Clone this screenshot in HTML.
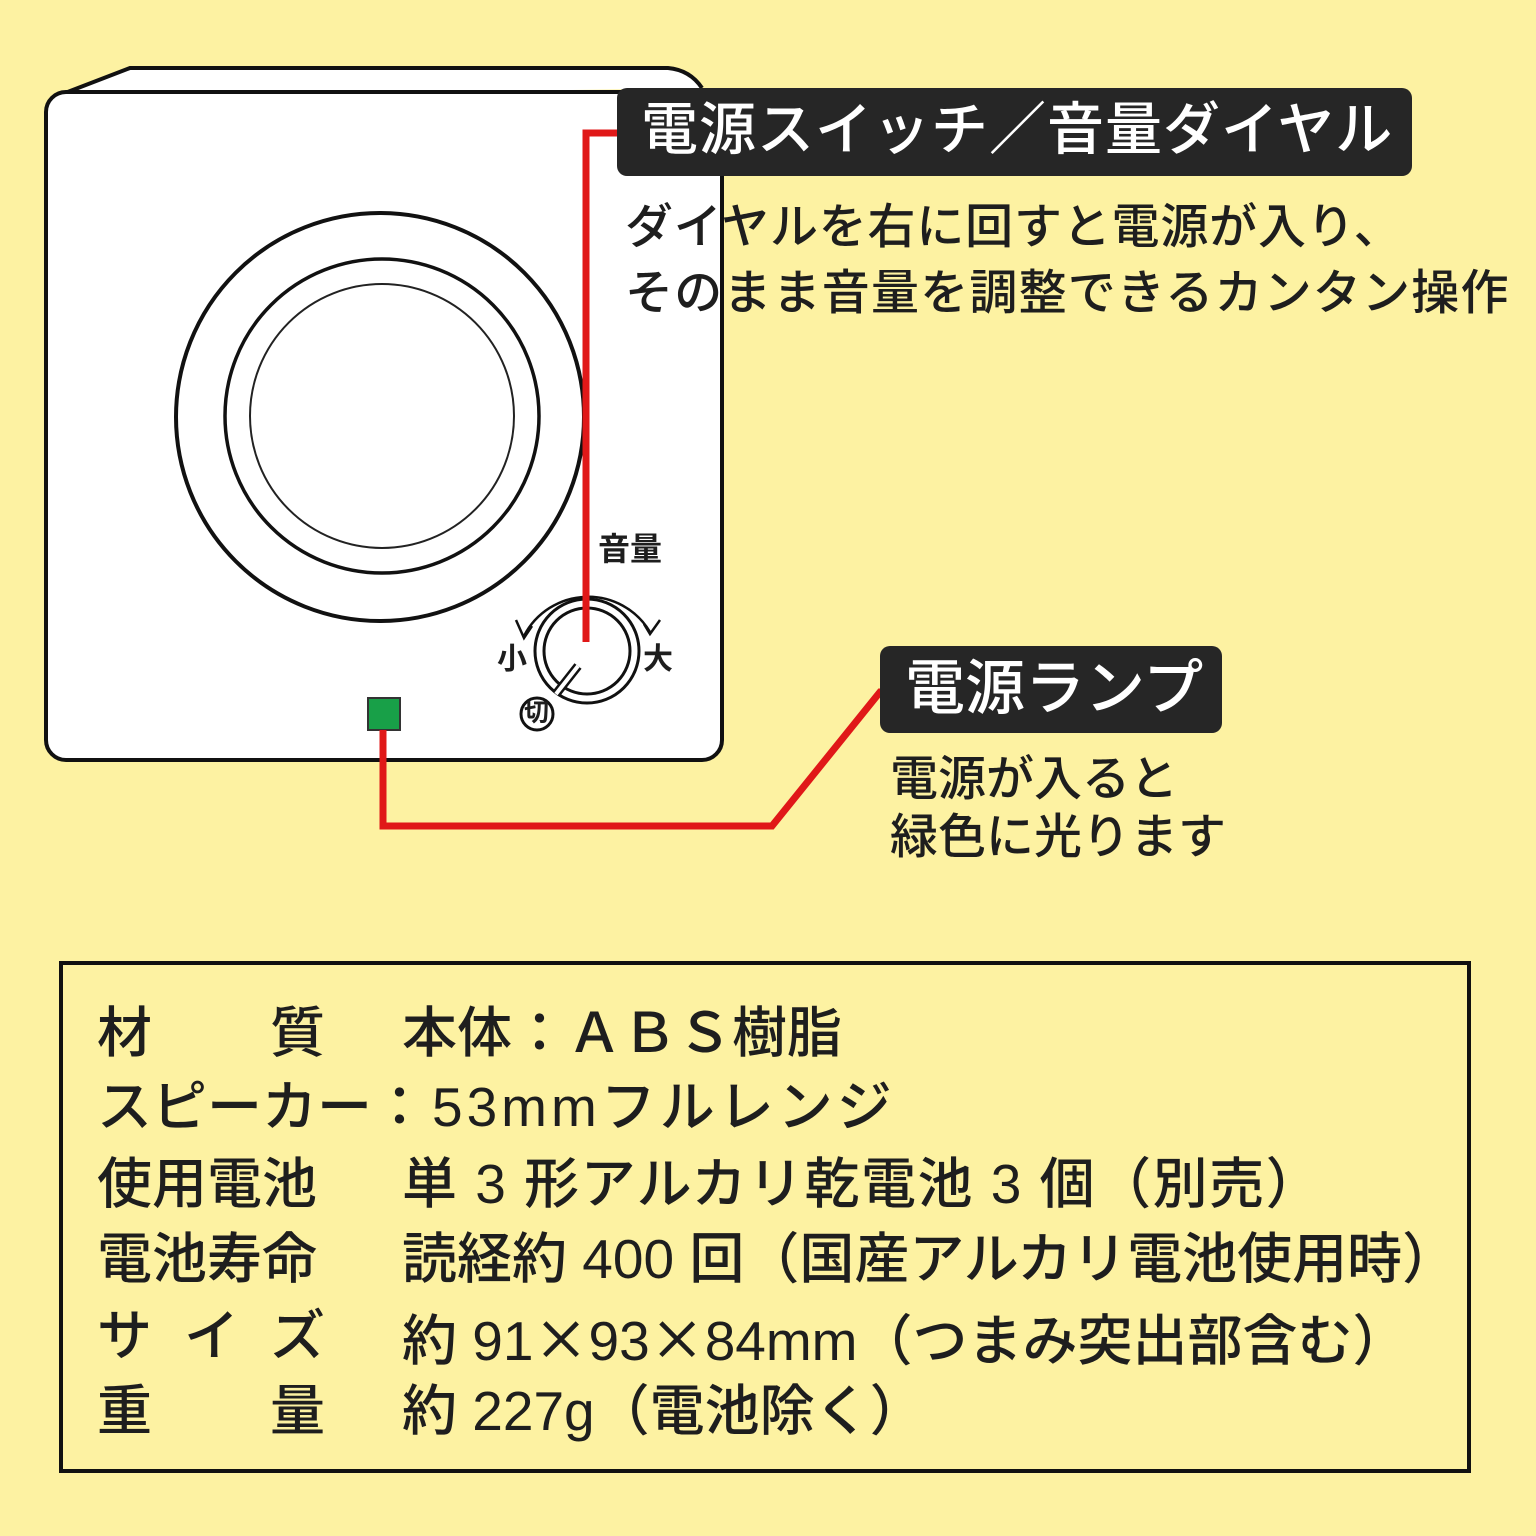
<!DOCTYPE html>
<html><head><meta charset="utf-8"><style>
html,body{margin:0;padding:0}
body{width:1536px;height:1536px;background:#fdf2a2;position:relative;overflow:hidden;font-family:"Liberation Sans","Noto Sans CJK JP",sans-serif;color:#1e1e1e}
.t{position:absolute;white-space:nowrap;line-height:1;font-weight:500}
.lab{position:absolute;background:#262626;border-radius:10px}
.w{color:#fff}
.row{position:absolute;left:97px;font-size:55px;line-height:1;white-space:nowrap;font-weight:500}
.row span{position:absolute;white-space:nowrap}
.x{font-family:"Noto Sans CJK JP",sans-serif}
</style></head><body>
<svg width="1536" height="1536" style="position:absolute;left:0;top:0">
  <path d="M52,98 L130,68 L668,68 Q690,70 702,88" fill="#fff" stroke="#111" stroke-width="4"/>
  <rect x="46" y="92" width="676" height="668" rx="20" fill="#fff" stroke="#111" stroke-width="4"/>
  <circle cx="380" cy="417" r="204" fill="none" stroke="#111" stroke-width="4"/>
  <circle cx="382" cy="416" r="157" fill="none" stroke="#111" stroke-width="3.5"/>
  <circle cx="382" cy="416" r="132" fill="none" stroke="#222" stroke-width="2"/>
  <circle cx="587" cy="651" r="52" fill="#fff" stroke="#111" stroke-width="3"/>
  <circle cx="587" cy="651" r="43" fill="none" stroke="#111" stroke-width="3"/>
  <path d="M524,636 A72,72 0 0 1 650,632" fill="none" stroke="#111" stroke-width="2.5"/>
  <path d="M516,620 L524,638 L532,626" fill="none" stroke="#111" stroke-width="2.5"/>
  <path d="M644,624 L650,634 L660,620" fill="none" stroke="#111" stroke-width="2.5"/>
  <line x1="578" y1="666" x2="556" y2="694" stroke="#111" stroke-width="9"/>
  <line x1="578" y1="666" x2="556" y2="694" stroke="#fff" stroke-width="4"/>
  <circle cx="537" cy="714" r="16" fill="#fff" stroke="#111" stroke-width="3"/>
  <rect x="368" y="698" width="32" height="32" fill="#18a048" stroke="#333" stroke-width="2"/>
  <polyline points="640,133 586,133 586,642" fill="none" stroke="#e01818" stroke-width="7"/>
  <polyline points="383,730 383,826 772,826 880,692 888,692" fill="none" stroke="#e01818" stroke-width="7"/>
  <rect x="61" y="963" width="1408" height="508" fill="none" stroke="#111" stroke-width="4"/>
</svg>
<div class="t" style="left:598px;top:533px;font-size:32px;font-weight:bold">音量</div>
<div class="t" style="left:497px;top:645px;font-size:30px;font-weight:bold">小</div>
<div class="t" style="left:643px;top:645px;font-size:30px;font-weight:bold">大</div>
<div class="t" style="left:524px;top:701px;font-size:25px;font-weight:bold">切</div>

<div class="lab" style="left:617px;top:88px;width:795px;height:88px"></div>
<div class="t w" style="left:641px;top:102px;font-size:57px;letter-spacing:1px">電源スイッチ／音量ダイヤル</div>
<div class="t" style="left:625px;top:204px;font-size:48px;letter-spacing:0.8px">ダイヤルを右に回すと電源が入り、</div>
<div class="t" style="left:625px;top:270px;font-size:48px;letter-spacing:1.2px">そのまま音量を調整できるカンタン操作</div>

<div class="lab" style="left:880px;top:646px;width:342px;height:87px"></div>
<div class="t w" style="left:905px;top:659px;font-size:60px">電源ランプ</div>
<div class="t" style="left:890px;top:756px;font-size:48px">電源が入ると</div>
<div class="t" style="left:890px;top:814px;font-size:48px">緑色に光ります</div>

<div class="row" style="top:1006px"><span style="left:0">材</span><span style="left:173px">質</span><span style="left:305px">本体：ＡＢＳ樹脂</span></div>
<div class="row" style="top:1080px"><span style="left:0">スピーカー：</span><span style="left:335px;letter-spacing:4px">53mmフルレンジ</span></div>
<div class="row" style="top:1157px"><span style="left:0">使用電池</span><span style="left:305px;letter-spacing:1.5px">単 3 形アルカリ乾電池 3 個（別売）</span></div>
<div class="row" style="top:1232px"><span style="left:0">電池寿命</span><span style="left:305px">読経約 400 回（国産アルカリ電池使用時）</span></div>
<div class="row" style="top:1309px"><span style="left:0">サ</span><span style="left:87px">イ</span><span style="left:173px">ズ</span><span style="left:305px">約 91<span class="x" style="position:static">×</span>93<span class="x" style="position:static">×</span>84mm（つまみ突出部含む）</span></div>
<div class="row" style="top:1384px"><span style="left:0">重</span><span style="left:173px">量</span><span style="left:305px">約 227g（電池除く）</span></div>
</body></html>
